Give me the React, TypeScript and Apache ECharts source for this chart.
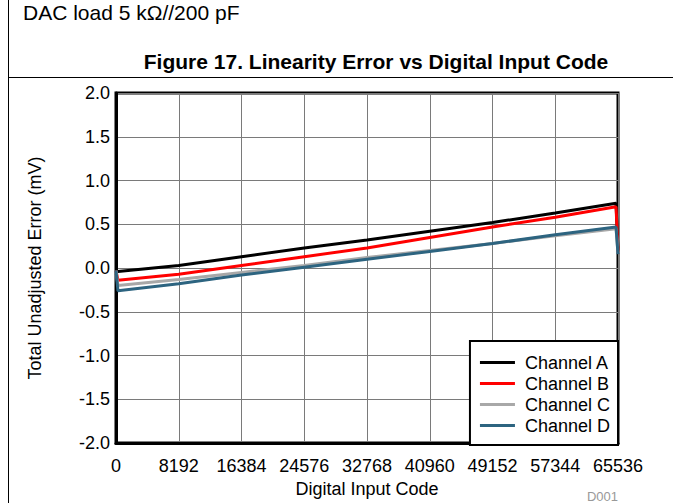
import React, { useEffect, useRef } from "react";
import * as echarts from "echarts";

const codes = [0, 256, 8192, 16384, 24576, 32768, 40960, 49152, 57344, 65280, 65535];
const channelA = [-0.03, -0.04, 0.03, 0.13, 0.23, 0.32, 0.42, 0.52, 0.63, 0.74, 0.2];
const channelB = [-0.03, -0.14, -0.07, 0.03, 0.13, 0.23, 0.35, 0.47, 0.58, 0.7, 0.18];
const channelC = [-0.03, -0.2, -0.13, -0.05, 0.03, 0.12, 0.2, 0.28, 0.37, 0.45, 0.17];
const channelD = [-0.03, -0.26, -0.18, -0.08, 0.01, 0.1, 0.19, 0.28, 0.38, 0.47, 0.16];
const seriesNames = ["Channel A", "Channel B", "Channel C", "Channel D"];
const seriesColors = ["#000000", "#ff0000", "#a8a8a8", "#2d6480"];

const FONT = "'Liberation Sans', Arial, sans-serif";

export default function App() {
  const ref = useRef<HTMLDivElement>(null);
  useEffect(() => {
    if (!ref.current) return;
    const chart = echarts.init(ref.current, null, { renderer: "svg" });
    const all = [channelA, channelB, channelC, channelD];
    chart.setOption({
      animation: false,
      backgroundColor: "#ffffff",
      textStyle: { fontFamily: FONT },
      grid: {
        left: 116,
        right: 55,
        top: 93,
        bottom: 58,
        show: true,
        borderColor: "#000",
        borderWidth: 3,
      },
      xAxis: {
        type: "value",
        min: 0,
        max: 65536,
        interval: 8192,
        name: "Digital Input Code",
        nameLocation: "middle",
        nameGap: 34,
        nameTextStyle: { fontSize: 18, color: "#000", fontFamily: FONT },
        axisLine: { show: true, onZero: false, lineStyle: { color: "#000", width: 3 } },
        axisTick: { show: false },
        axisLabel: {
          fontSize: 18,
          color: "#000",
          margin: 14,
          fontFamily: FONT,
          formatter: (v: number) => String(v),
        },
        splitLine: { show: true, lineStyle: { color: "#7a7a7a", width: 1 } },
      },
      yAxis: {
        type: "value",
        min: -2,
        max: 2,
        interval: 0.5,
        name: "Total Unadjusted Error (mV)",
        nameLocation: "middle",
        nameGap: 72,
        nameTextStyle: { fontSize: 18, color: "#000", fontFamily: FONT },
        axisLine: { show: true, onZero: false, lineStyle: { color: "#000", width: 3 } },
        axisTick: { show: false },
        axisLabel: {
          fontSize: 18,
          color: "#000",
          margin: 6,
          fontFamily: FONT,
          formatter: (v: number) => v.toFixed(1),
        },
        splitLine: { show: true, lineStyle: { color: "#7a7a7a", width: 1 } },
      },
      legend: {
        orient: "vertical",
        right: 55,
        bottom: 58,
        backgroundColor: "#fff",
        borderColor: "#000",
        borderWidth: 2,
        padding: [11, 8, 9, 10],
        itemGap: 0,
        itemWidth: 35,
        itemHeight: 3,
        icon: "rect",
        textStyle: {
          fontSize: 18,
          color: "#000",
          fontFamily: FONT,
          lineHeight: 21,
          padding: [0, 0, 0, 5],
        },
        data: seriesNames,
      },
      series: all.map((vals, i) => ({
        name: seriesNames[i],
        type: "line",
        data: codes.map((c, j) => [c, vals[j]]),
        showSymbol: false,
        symbol: "none",
        lineStyle: { color: seriesColors[i], width: 3 },
        itemStyle: { color: seriesColors[i] },
        z: 2 + i,
      })),
      graphic: [
        {
          type: "line",
          shape: { x1: 8.5, y1: 0, x2: 8.5, y2: 503 },
          style: { stroke: "#000", lineWidth: 1 },
        },
        {
          type: "line",
          shape: { x1: 8, y1: 77.5, x2: 673, y2: 77.5 },
          style: { stroke: "#000", lineWidth: 1 },
        },
        {
          type: "text",
          x: 23,
          y: 12,
          style: {
            text: "DAC load 5 kΩ//200 pF",
            fontSize: 21,
            fill: "#000",
            fontFamily: FONT,
            verticalAlign: "middle",
          },
        },
        {
          type: "text",
          x: 376,
          y: 61,
          style: {
            text: "Figure 17. Linearity Error vs Digital Input Code",
            fontSize: 21,
            fontWeight: "bold",
            fill: "#000",
            fontFamily: FONT,
            align: "center",
            verticalAlign: "middle",
          },
        },
        {
          type: "text",
          x: 618,
          y: 496,
          style: {
            text: "D001",
            fontSize: 13,
            fill: "#999",
            fontFamily: FONT,
            align: "right",
            verticalAlign: "middle",
          },
        },
      ],
    });
    return () => chart.dispose();
  }, []);
  return (
    <div
      ref={ref}
      style={{ position: "fixed", left: 0, top: 0, width: 673, height: 503 }}
    />
  );
}
